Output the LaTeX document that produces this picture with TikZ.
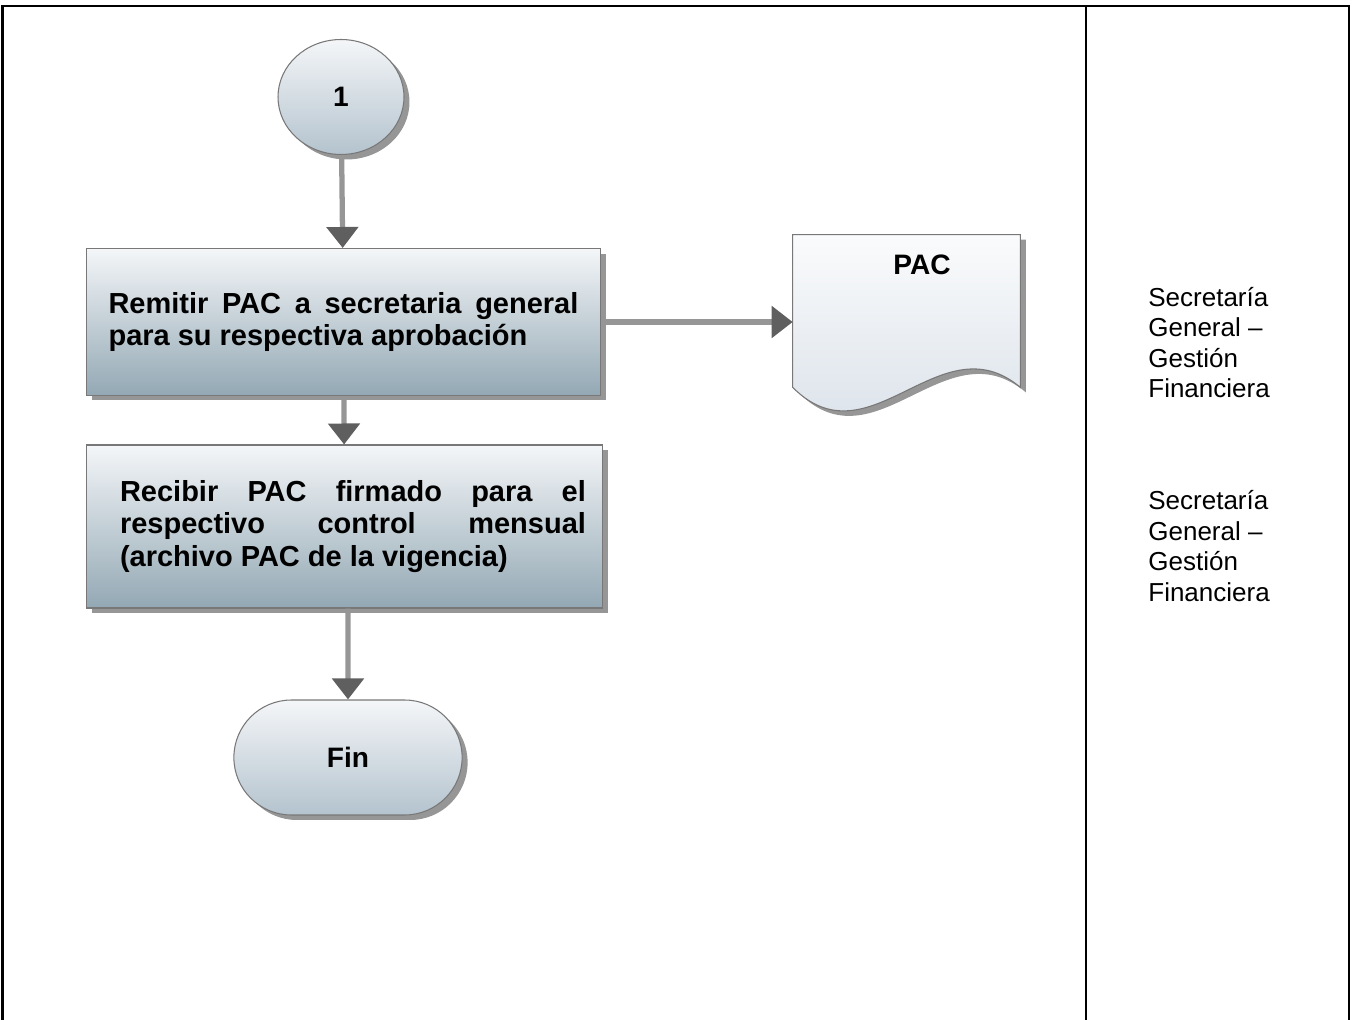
\documentclass[tikz,border=0pt]{standalone}
\usepackage{fontspec}
\setmainfont{Liberation Sans}
\usetikzlibrary{arrows.meta, shadows, shapes.geometric, shapes.misc}
\definecolor{boxtop}{RGB}{244, 246, 248}
\definecolor{boxbottom}{RGB}{147, 168, 180}
\definecolor{softbottom}{RGB}{180, 195, 206}
\definecolor{doctop}{RGB}{250, 251, 252}
\definecolor{docbottom}{RGB}{214, 222, 231}
\definecolor{edgegray}{RGB}{120, 120, 120}
\definecolor{flowgray}{RGB}{150, 150, 150}
\definecolor{tipgray}{RGB}{95, 95, 95}

\tikzset{
  shade/.style={drop shadow={shadow xshift=0.11cm, shadow yshift=-0.1cm, opacity=0.55, fill=black!75}},
  procbox/.style={rectangle, draw=edgegray, line width=0.6pt, top color=boxtop, bottom color=boxbottom, shade, inner sep=0pt, font=\fontsize{16.5}{18.7}\selectfont\bfseries},
  connector/.style={ellipse, draw=edgegray, line width=0.6pt, top color=boxtop, bottom color=softbottom, shade, font=\fontsize{16}{18}\selectfont\bfseries},
  endbox/.style={rounded rectangle, draw=edgegray, line width=0.6pt, top color=boxtop, bottom color=softbottom, shade, font=\fontsize{16}{18}\selectfont\bfseries},
  flow/.style={draw=flowgray, line width=3pt, -{Triangle[length=0.42cm, width=0.62cm, color=tipgray]}},
  respnote/.style={anchor=west, align=left, inner sep=0pt, font=\fontsize{14.8}{17.3}\selectfont},
  frame/.style={line width=1.5pt}
}

\begin{document}
\begin{tikzpicture}[x=0.02cm, y=-0.02cm]
    \useasboundingbox (0,0) rectangle (1352,1020);

    % Table frame
    \draw[frame] (2.5,1020) -- (2.5,6) -- (1349,6) -- (1349,1020);
    \draw[frame] (1086,6) -- (1086,1020);

    % Flow nodes
    \node[connector, minimum width=2.52cm, minimum height=2.3cm] (uno) at (341,97) {1};
    \node[procbox, minimum width=10.3cm, minimum height=2.94cm, text width=9.4cm, align=justify] (remitir) at (343.5,322)
        {Remitir PAC a secretaria general para su respectiva aprobación};
    \node[procbox, minimum width=10.34cm, minimum height=3.26cm] (recibir) at (344.5,526.5)
        {\hspace*{0.34cm}\parbox{9.32cm}{Recibir PAC firmado para el\linebreak respectivo control mensual\linebreak (archivo PAC de la vigencia)}};
    \node[endbox, minimum width=4.8cm, minimum height=2.3cm] (fin) at (348,757.5) {Fin};

    % Document
    \node[minimum width=4.54cm, minimum height=3.04cm, inner sep=0pt] (pac) at (906.5,311) {};
    \filldraw[draw=edgegray, line width=0.6pt, top color=doctop, bottom color=docbottom, shade]
        (pac.south west) -- (pac.north west) -- (pac.north east) -- (pac.south east)
        .. controls (940,320) and (870,465) .. (pac.south west) -- cycle;
    \node[font=\fontsize{16}{18}\selectfont\bfseries] (paclabel) at (922,265) {PAC};

    % Connectors
    \draw[flow] (uno) -- (remitir);
    \draw[flow] (remitir) -- (recibir);
    \draw[flow] (recibir.south -| fin.north) -- (fin);
    \draw[flow] (remitir.east) -- (remitir.east -| pac.west);

    % Responsible
    \node[respnote] (resp1) at (1148,342.5) {Secretaría\\General –\\Gestión\\Financiera};
    \node[respnote] (resp2) at (1148,546) {Secretaría\\General –\\Gestión\\Financiera};
\end{tikzpicture}
\end{document}
